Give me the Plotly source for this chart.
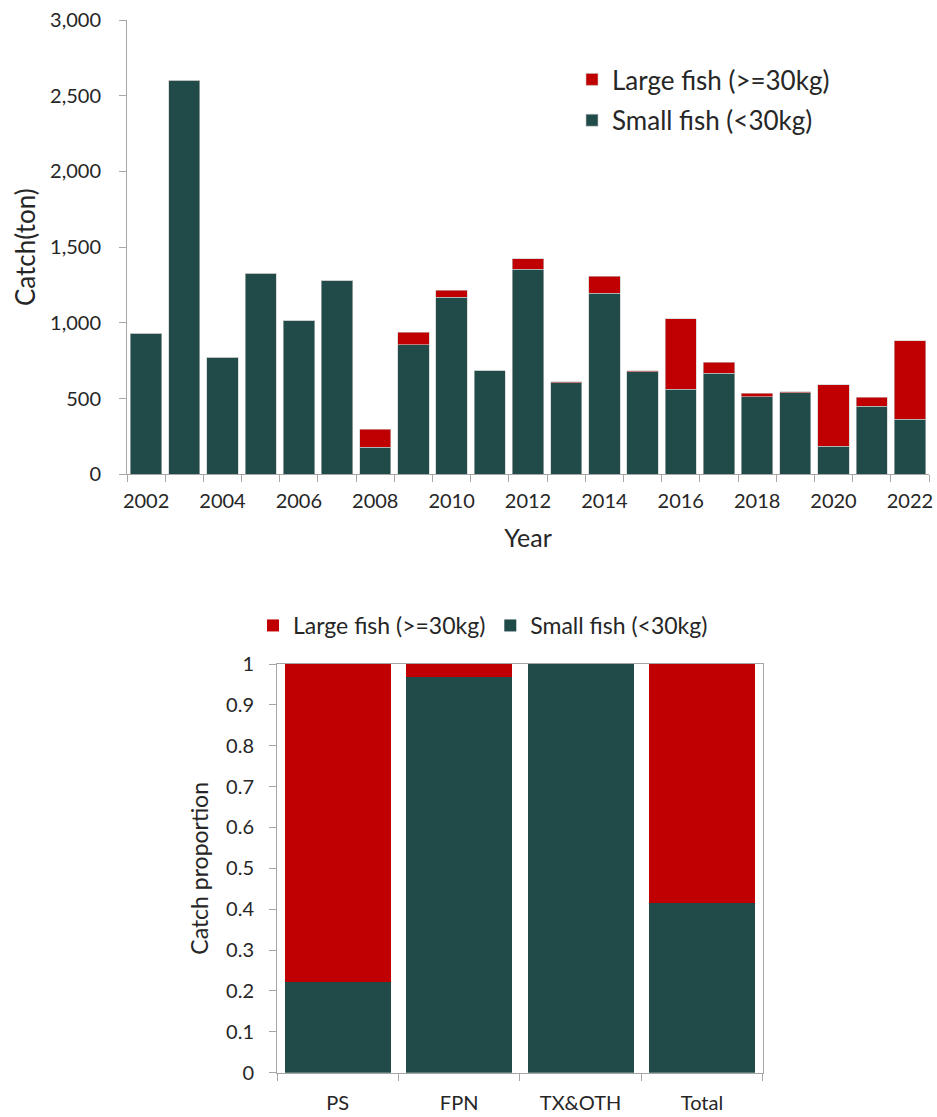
import plotly.graph_objects as go

# ---- Top chart data: catch (ton) by year ----
years = [str(y) for y in range(2002, 2023)]
small_catch = [930, 2602, 772, 1327, 1014, 1278, 179, 856, 1169, 685, 1355,
               603, 1196, 678, 563, 668, 511, 537, 186, 450, 365]
large_catch = [0, 0, 0, 0, 0, 0, 117, 83, 45, 0, 69,
               7, 113, 7, 463, 73, 23, 7, 405, 58, 517]
year_labels = [y if (int(y) % 2 == 0) else "" for y in years]

# ---- Bottom chart data: catch proportion by gear ----
gears = ["PS", "FPN", "TX&OTH", "Total"]
small_prop = [0.223, 0.968, 1.0, 0.416]
large_prop = [0.777, 0.032, 0.0, 0.584]

name_large = "Large fish (>=30kg)"
name_small = "Small fish (<30kg)"
c_large = "#C00000"
c_small = "#214B48"
axis_c = "#A6A6A6"
txt_c = "#262626"
FONT = "Lato"

fig = go.Figure()

fig.add_trace(go.Bar(x=years, y=small_catch, name=name_small, marker_color=c_small,
                     marker_line=dict(color="#C8C8C8", width=0.6),
                     legendgroup="s", legendrank=2,
                     xaxis="x", yaxis="y", legend="legend"))
fig.add_trace(go.Bar(x=years, y=large_catch, name=name_large, marker_color=c_large,
                     marker_line=dict(color="#C8C8C8", width=0.6),
                     legendgroup="l", legendrank=1,
                     xaxis="x", yaxis="y", legend="legend"))
fig.add_trace(go.Bar(x=gears, y=small_prop, name=name_small, marker_color=c_small,
                     marker_line_width=0, width=0.873, legendrank=2,
                     xaxis="x2", yaxis="y2", legend="legend2"))
fig.add_trace(go.Bar(x=gears, y=large_prop, name=name_large, marker_color=c_large,
                     marker_line_width=0, width=0.873, legendrank=1,
                     xaxis="x2", yaxis="y2", legend="legend2"))

W, H = 937, 1117

def px_x(p):
    return p / W

def px_y(p):
    return 1 - p / H

tick_common = dict(ticks="outside", ticklen=7, tickcolor=axis_c, tickwidth=1,
                   showline=True, linecolor=axis_c, linewidth=1, showgrid=False,
                   automargin=False)

fig.update_layout(
    width=W, height=H,
    margin=dict(l=0, r=0, t=0, b=0),
    paper_bgcolor="white", plot_bgcolor="white",
    barmode="stack", bargap=0.18,
    font=dict(family=FONT, color=txt_c, size=20),
    showlegend=True,
    xaxis=dict(
        domain=[px_x(127), px_x(929)], anchor="y", type="category",
        tickvals=years, ticktext=year_labels, tickson="boundaries", tickangle=0,
        tickfont=dict(size=20), ticklabelstandoff=9,
        title=dict(text="Year", font=dict(size=25), standoff=18),
        **tick_common,
    ),
    yaxis=dict(
        domain=[px_y(474.3), px_y(20)], anchor="x", range=[0, 3000],
        tickvals=[0, 500, 1000, 1500, 2000, 2500, 3000], tickformat=",d",
        zeroline=False, tickfont=dict(size=20), ticklabelstandoff=14,
        title=dict(text="Catch(ton)", font=dict(size=26), standoff=6),
        **tick_common,
    ),
    xaxis2=dict(
        domain=[px_x(277), px_x(762.7)], anchor="y2", type="category",
        tickson="boundaries", tickangle=0, mirror=True,
        tickfont=dict(size=20), ticklabelstandoff=12,
        **tick_common,
    ),
    yaxis2=dict(
        domain=[px_y(1072.7), px_y(664)], anchor="x2", range=[0, 1],
        tickvals=[0, 0.1, 0.2, 0.3, 0.4, 0.5, 0.6, 0.7, 0.8, 0.9, 1],
        ticktext=["0", "0.1", "0.2", "0.3", "0.4", "0.5", "0.6", "0.7", "0.8", "0.9", "1"],
        mirror=True, zeroline=False, tickfont=dict(size=20), ticklabelstandoff=11,
        title=dict(text="Catch proportion", font=dict(size=23), standoff=11),
        **tick_common,
    ),
    legend=dict(
        x=px_x(572), y=px_y(56), xanchor="left", yanchor="top",
        orientation="v", traceorder="grouped", font=dict(size=26),
        bgcolor="rgba(0,0,0,0)", itemclick=False, tracegroupgap=4,
    ),
    legend2=dict(
        x=px_x(253), y=px_y(604), xanchor="left", yanchor="top",
        orientation="h", traceorder="normal", font=dict(size=23),
        bgcolor="rgba(0,0,0,0)", itemclick=False,
    ),
)

fig.write_html(
    "out.html",
    config={"displayModeBar": False},
    post_script="document.body.style.margin='0';document.body.style.overflow='hidden';",
)
